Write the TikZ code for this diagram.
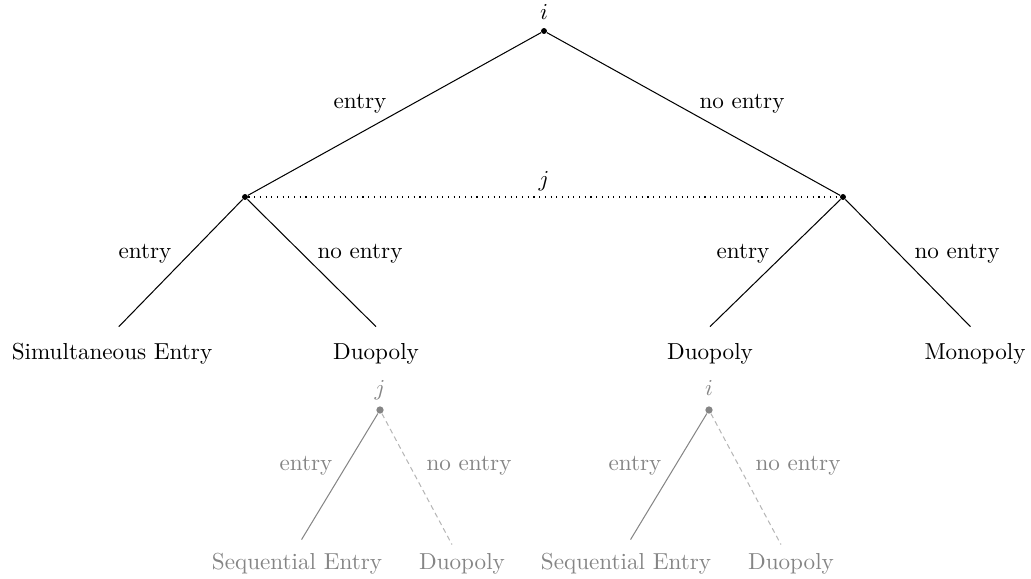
\documentclass[tikz,border=0pt]{standalone}
\usetikzlibrary{calc}
\colorlet{ghost}{black!48}
\tikzset{
  dotn/.style={circle,fill=black,inner sep=0pt,minimum size=2.6pt},
  gdot/.style={circle,fill=ghost,inner sep=0pt,minimum size=3.2pt},
  leaf/.style={anchor=base,text height=7pt,text depth=2pt,inner xsep=0pt,inner ysep=7pt},
  gleaf/.style={leaf,text=ghost,inner ysep=5.7pt},
  lab/.style={anchor=base,inner sep=0pt},
  glab/.style={lab,text=ghost},
  edge/.style={line width=0.45pt},
  gedge/.style={draw=ghost,line width=0.45pt},
  gdash/.style={draw=ghost!60,line width=0.45pt,dashed,dash pattern=on 2.2pt off 1.6pt},
  infoset/.style={line width=0.5pt,dotted}
}
\begin{document}
\begin{tikzpicture}[x=0.4386pt,y=-0.4386pt,font=\fontsize{10.15pt}{12pt}\selectfont]
\useasboundingbox (0,0) rectangle (1031,579);
% main tree
\node[dotn] (r) at (544,31) {};
\node[lab] (ri) at (544,20) {$i$};
\node[dotn] (a) at (245,197) {};
\node[dotn] (b) at (843,197) {};
\draw[edge] (r) -- (a);
\draw[edge] (r) -- (b);
\draw[infoset] (a) -- (b);
\node[lab] (jl) at (544,186) {$j$};
\node[lab] (l1) at (360,109) {entry};
\node[lab] (l2) at (742,109) {no entry};
% leaves
\node[leaf] (s1) at (112,359) {Simultaneous Entry};
\node[leaf] (d1) at (376,359) {Duopoly};
\node[leaf] (d2) at (710,359) {Duopoly};
\node[leaf] (m1) at (975,359) {Monopoly};
\draw[edge] (a) -- ([xshift=3]s1.north);
\draw[edge] (a) -- (d1.north);
\draw[edge] (b) -- (d2.north);
\draw[edge] (b) -- ([xshift=-2]m1.north);
\node[lab] (l3) at (145,258) {entry};
\node[lab] (l4) at (360,258) {no entry};
\node[lab] (l5) at (743,258) {entry};
\node[lab] (l6) at (957,258) {no entry};
% ghost subtree 1
\node[gdot] (g1) at (380,410) {};
\node[glab] (g1l) at (380,395) {$j$};
\node[gleaf] (gs1) at (297,569) {Sequential Entry};
\node[gleaf] (gd1) at (462,569) {Duopoly};
\draw[gedge] (g1) -- ([xshift=2]gs1.north);
\draw[gdash] (g1) -- ([shift={(-10,5)}]gd1.north);
\node[glab] (g1a) at (306,470) {entry};
\node[glab] (g1b) at (469,470) {no entry};
% ghost subtree 2
\node[gdot] (g2) at (709,410) {};
\node[glab] (g2l) at (709,395) {$i$};
\node[gleaf] (gs2) at (626,569) {Sequential Entry};
\node[gleaf] (gd2) at (791,569) {Duopoly};
\draw[gedge] (g2) -- ([xshift=2]gs2.north);
\draw[gdash] (g2) -- ([shift={(-10,5)}]gd2.north);
\node[glab] (g2a) at (635,470) {entry};
\node[glab] (g2b) at (798,470) {no entry};
\end{tikzpicture}
\end{document}
